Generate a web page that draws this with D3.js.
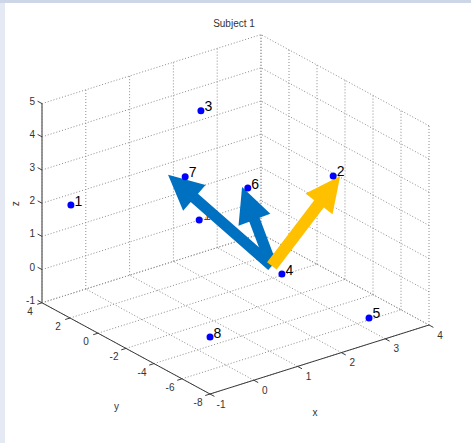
<!DOCTYPE html>
<html lang="en">
<head>
    <meta charset="UTF-8">
    <title>Subject 1</title>
    <script src="https://d3js.org/d3.v7.min.js"></script>
    <style>
        body {
            margin: 0;
            overflow: hidden;
            background: #fff;
            font-family: "Liberation Sans", Arial, sans-serif;
        }
        .grid {
            fill: none;
            stroke: #8c8c8c;
            stroke-width: 1px;
            stroke-dasharray: 1,2;
        }
        .axis {
            stroke: #3c3c3c;
            stroke-width: 1px;
            fill: none;
        }
        .tick-label {
            font-size: 10px;
            fill: #333;
        }
        .pt-label {
            font-size: 14px;
            fill: #000;
        }
    </style>
</head>
<body>
<script>
    // axis ranges and ticks
    const xTicks = [-1, 0, 1, 2, 3, 4];
    const yTicks = [-8, -6, -4, -2, 0, 2, 4];
    const zTicks = [-1, 0, 1, 2, 3, 4, 5];

    // points (x, y, z)
    const pointLabels = ["1", "2", "3", "4", "5", "6", "7", "8"];
    const pointX = [-0.66, 3.73, 1.35, 2.56, 3.27, 2.42, 1.31, -0.36];
    const pointY = [3, -2, 0, -2, -6, 0, 1, -6];
    const pointZ = [2.03, 2.23, 4.72, -0.24, -0.94, 1.95, 2.52, -0.01];

    // extra point whose red label sits behind the arrow
    const extraPoint = [1.31, 0, 1.45];
    const extraLabel = "10";

    // arrows: common start, tips
    const arrowStart = [2.33, -2, 0.10];
    const arrowTipX = [1.65, -0.04, 3.89];
    const arrowTipY = [-2, -2, -2];
    const arrowTipZ = [2.76, 3.83, 2.16];
    const arrowColors = ["#0070c0", "#0070c0", "#ffc000"];

    const width = 471, height = 443;

    const svg = d3.select("body").append("svg")
        .attr("width", width)
        .attr("height", height);

    // window frame
    svg.append("rect").attr("x", 0).attr("y", 0).attr("width", width).attr("height", 3).attr("fill", "#cdd6e7");
    svg.append("rect").attr("x", 0).attr("y", 3).attr("width", 5).attr("height", height).attr("fill", "#e4e9f3");

    // oblique projection of the 3D box, built from three linear scales
    const fx = d3.scaleLinear().domain([-1, 4]).range([0, 1]);
    const fy = d3.scaleLinear().domain([-8, 4]).range([0, 1]);
    const fz = d3.scaleLinear().domain([-1, 5]).range([0, 1]);
    const O = [210, 394];       // (-1,-8,-1)
    const X1 = [429, 325];      // ( 4,-8,-1)
    const Y1 = [42, 302.8];     // (-1, 4,-1)
    const H = 199.2;            // z extent in pixels

    function proj(x, y, z) {
        const a = fx(x), b = fy(y), c = fz(z);
        return [
            O[0] + a * (X1[0] - O[0]) + b * (Y1[0] - O[0]),
            O[1] + a * (X1[1] - O[1]) + b * (Y1[1] - O[1]) - c * H
        ];
    }

    const line = d3.line();
    const seg = (p, q) => line([proj(...p), proj(...q)]);

    const g = svg.append("g");

    // grid: floor z=-1
    xTicks.forEach(x => g.append("path").attr("class", "grid").attr("d", seg([x, -8, -1], [x, 4, -1])));
    yTicks.forEach(y => g.append("path").attr("class", "grid").attr("d", seg([-1, y, -1], [4, y, -1])));
    // back wall y=4
    xTicks.forEach(x => g.append("path").attr("class", "grid").attr("d", seg([x, 4, -1], [x, 4, 5])));
    zTicks.forEach(z => g.append("path").attr("class", "grid").attr("d", seg([-1, 4, z], [4, 4, z])));
    // back wall x=4
    yTicks.forEach(y => g.append("path").attr("class", "grid").attr("d", seg([4, y, -1], [4, y, 5])));
    zTicks.forEach(z => g.append("path").attr("class", "grid").attr("d", seg([4, -8, z], [4, 4, z])));

    // axes
    g.append("path").attr("class", "axis").attr("d", seg([-1, -8, -1], [4, -8, -1]));
    g.append("path").attr("class", "axis").attr("d", seg([-1, -8, -1], [-1, 4, -1]));
    g.append("path").attr("class", "axis").attr("d", seg([-1, 4, -1], [-1, 4, 5]))
        .style("stroke", "#777").style("stroke-width", 1.5);

    // tick marks, 5px long, pointing out of the box
    function tick(p, q) {
        const a = proj(...p), b = proj(...q);
        const dx = b[0] - a[0], dy = b[1] - a[1];
        const len = Math.hypot(dx, dy);
        return line([a, [a[0] + dx / len * 5, a[1] + dy / len * 5]]);
    }
    xTicks.forEach(x => g.append("path").attr("class", "axis").attr("d", tick([x, -8, -1], [x, -9, -1])));
    yTicks.forEach(y => g.append("path").attr("class", "axis").attr("d", tick([-1, y, -1], [-2, y, -1])));
    zTicks.forEach(z => g.append("path").attr("class", "axis").attr("d", tick([-1, 4, z], [-1, 5, z])));

    // tick labels
    xTicks.forEach(x => {
        const p = proj(x, -8, -1);
        g.append("text").attr("class", "tick-label")
            .attr("x", p[0] + 11).attr("y", p[1] + 13.5)
            .attr("text-anchor", "middle").text(x);
    });
    yTicks.forEach(y => {
        const p = proj(-1, y, -1);
        g.append("text").attr("class", "tick-label")
            .attr("x", p[0] - 12).attr("y", p[1] + 12)
            .attr("text-anchor", "middle").text(y);
    });
    zTicks.forEach(z => {
        const p = proj(-1, 4, z);
        g.append("text").attr("class", "tick-label")
            .attr("x", p[0] - 7).attr("y", p[1] + 1)
            .attr("text-anchor", "end").text(z);
    });

    // axis titles
    const xm = proj(1.5, -8, -1);
    g.append("text").attr("class", "tick-label").attr("x", xm[0] - 4.5).attr("y", xm[1] + 56)
        .attr("text-anchor", "middle").text("x");
    const ym = proj(-1, -2, -1);
    g.append("text").attr("class", "tick-label").attr("x", ym[0] - 9.5).attr("y", ym[1] + 62)
        .attr("text-anchor", "middle").text("y");
    const zm = proj(-1, 4, 2);
    g.append("text").attr("class", "tick-label")
        .attr("transform", `translate(${zm[0] - 23},${zm[1] + 0.5}) rotate(-90)`)
        .attr("text-anchor", "middle").text("z");

    // title
    g.append("text").attr("class", "tick-label")
        .attr("x", 234).attr("y", 27)
        .attr("text-anchor", "middle").text("Subject 1");

    // red label hidden behind the arrow
    const ep = proj(...extraPoint);
    g.append("text").attr("class", "pt-label")
        .attr("x", ep[0] + 4).attr("y", ep[1] + 0.5)
        .style("fill", "#ff0000").text(extraLabel);

    // arrows
    function arrowPath(a, b, shaftW, headL, headW) {
        const dx = b[0] - a[0], dy = b[1] - a[1];
        const len = Math.hypot(dx, dy);
        const ux = dx / len, uy = dy / len;
        const nx = -uy, ny = ux;
        const bx = b[0] - ux * headL, by = b[1] - uy * headL;
        const s = shaftW / 2;
        return line([
            [a[0] + nx * s, a[1] + ny * s],
            [bx + nx * s, by + ny * s],
            [bx + nx * headW, by + ny * headW],
            b,
            [bx - nx * headW, by - ny * headW],
            [bx - nx * s, by - ny * s],
            [a[0] - nx * s, a[1] - ny * s]
        ]) + "Z";
    }
    const a0 = proj(...arrowStart);
    arrowTipX.forEach((x, i) => {
        const tip = proj(x, arrowTipY[i], arrowTipZ[i]);
        g.append("path")
            .attr("d", arrowPath(a0, tip, i === 2 ? 12 : 11, 35, 17))
            .attr("fill", arrowColors[i]);
    });

    // points
    const pts = pointLabels.map((l, i) => ({ label: l, p: proj(pointX[i], pointY[i], pointZ[i]) }));
    g.append("circle").attr("cx", ep[0]).attr("cy", ep[1]).attr("r", 3.5).attr("fill", "#0000ff");
    g.selectAll(".pt").data(pts).join("circle")
        .attr("class", "pt")
        .attr("cx", d => d.p[0]).attr("cy", d => d.p[1])
        .attr("r", 3.5).attr("fill", "#0000ff");
    g.selectAll(".pt-text").data(pts).join("text")
        .attr("class", "pt-label pt-text")
        .attr("x", d => d.p[0] + 3.5).attr("y", d => d.p[1] + 0.5)
        .text(d => d.label);
</script>
</body>
</html>
